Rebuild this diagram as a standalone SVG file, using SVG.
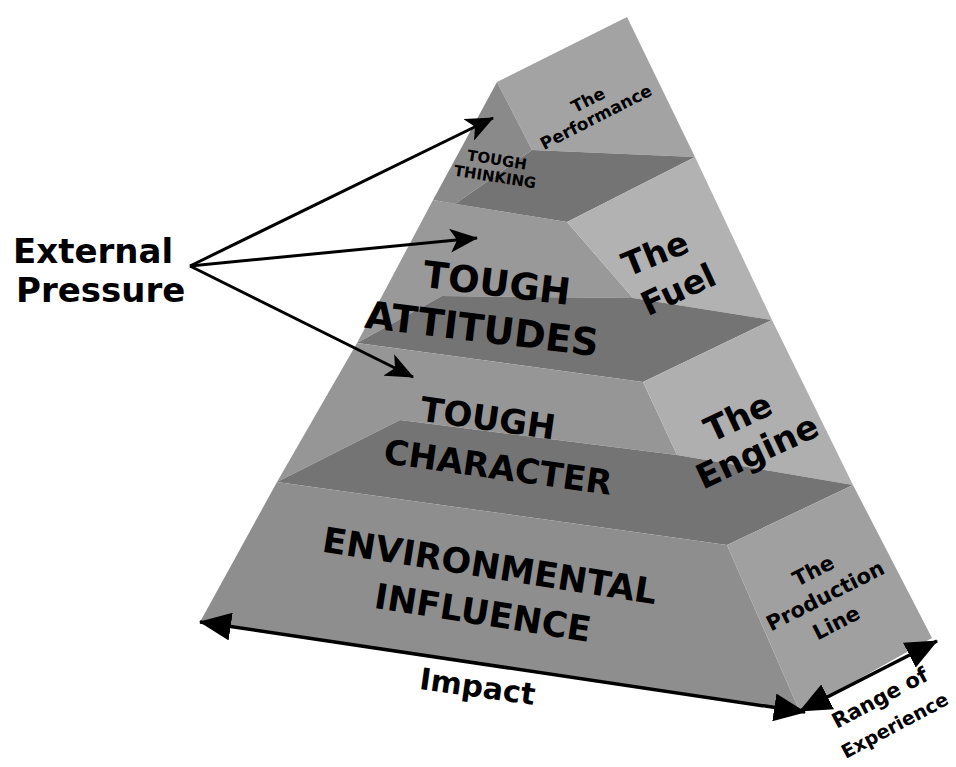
<svg xmlns="http://www.w3.org/2000/svg" width="956" height="767" viewBox="0 0 956 767">
<style>
.t{font-family:"DejaVu Sans","Verdana",sans-serif;font-weight:bold;fill:#000;text-anchor:middle}
.ledge{fill:#747474}
.ln{stroke:#000;fill:none}
</style>
<defs>
<marker id="ah" markerUnits="userSpaceOnUse" viewBox="0 0 28 24" refX="27" refY="12" markerWidth="28" markerHeight="24" orient="auto">
<path d="M0,0 L28,12 L0,24 L7,12 Z" fill="#000"/>
</marker>
<marker id="big" markerUnits="userSpaceOnUse" viewBox="0 0 32 28" refX="31" refY="14" markerWidth="32" markerHeight="28" orient="auto-start-reverse">
<path d="M0,0 L32,14 L0,28 Z" fill="#000"/>
</marker>
</defs>
<rect width="956" height="767" fill="#fff"/>
<g id="tier-thinking">
<polygon points="497,82 627,17 695,157 532,150" fill="#a3a3a3"/>
<polygon points="497,82 532,150 455,204 433,200" fill="#8a8a8a"/>
<polygon class="ledge" points="455,204 532,150 695,157 567,222"/>
<text class="t" font-size="15" x="497" y="165" transform="rotate(9 497 160)">TOUGH</text>
<text class="t" font-size="15" x="495" y="182" transform="rotate(9 495 177)">THINKING</text>
<text class="t" font-size="17" x="588" y="106" transform="rotate(-27 588 100)">The</text>
<text class="t" font-size="17" x="596" y="123" transform="rotate(-27 596 117)">Performance</text>
</g>
<g id="tier-attitudes">
<polygon points="433,200 567,222 633,298 442,296 357,343" fill="#999999"/>
<polygon points="567,222 695,157 772,320 633,298" fill="#b2b2b2"/>
<polygon class="ledge" points="357,343 442,296 633,298 772,320 643,382"/>
<text class="t" font-size="37" x="497" y="296" transform="rotate(7 497 282)">TOUGH</text>
<text class="t" font-size="38" x="482" y="342" transform="rotate(7 482 328)">ATTITUDES</text>
<text class="t" font-size="33" x="655" y="265" transform="rotate(-22 655 253)">The</text>
<text class="t" font-size="33" x="678" y="301" transform="rotate(-25 678 289)">Fuel</text>
</g>
<g id="tier-character">
<polygon points="357,343 643,382 677,455 400,420 277,482" fill="#969696"/>
<polygon points="643,382 772,320 853,485 677,455" fill="#afafaf"/>
<polygon class="ledge" points="277,482 400,420 677,455 853,485 727,545"/>
<text class="t" font-size="34" x="488" y="430" transform="rotate(8 488 418)">TOUGH</text>
<text class="t" font-size="34" x="498" y="479" transform="rotate(8 498 467)">CHARACTER</text>
<text class="t" font-size="34" x="738" y="429" transform="rotate(-25 738 417)">The</text>
<text class="t" font-size="34" x="758" y="463" transform="rotate(-25 758 453)">Engine</text>
</g>
<g id="tier-environmental">
<polygon points="277,482 727,545 800,712 200,622" fill="#8e8e8e"/>
<polygon points="727,545 853,485 932,638 800,712" fill="#a0a0a0"/>
<text class="t" font-size="35" x="490" y="578" transform="rotate(9 490 565)">ENVIRONMENTAL</text>
<text class="t" font-size="35" x="483" y="625" transform="rotate(9 483 612)">INFLUENCE</text>
<text class="t" font-size="21" x="813" y="578" transform="rotate(-27 813 570)">The</text>
<text class="t" font-size="21" x="825" y="603" transform="rotate(-27 825 595)">Production</text>
<text class="t" font-size="21" x="836" y="630" transform="rotate(-27 836 622)">Line</text>
</g>
<g id="external-pressure">
<text class="t" font-size="34" x="13" y="263" style="text-anchor:start">External</text>
<text class="t" font-size="34" x="16" y="302" style="text-anchor:start">Pressure</text>
</g>
<g id="axis-labels">
<text class="t" font-size="30" x="477" y="697" transform="rotate(8 477 690)">Impact</text>
<text class="t" font-size="21" x="880" y="705" transform="rotate(-28 880 698)">Range of</text>
<text class="t" font-size="19" x="895" y="732" transform="rotate(-28 895 726)">Experience</text>
</g>
<g id="connectors">
<line class="ln" stroke-width="3" x1="190" y1="266" x2="493" y2="118" marker-end="url(#ah)"/>
<line class="ln" stroke-width="3" x1="190" y1="266" x2="477" y2="238" marker-end="url(#ah)"/>
<line class="ln" stroke-width="3" x1="190" y1="266" x2="413" y2="377" marker-end="url(#ah)"/>
<line class="ln" stroke-width="3.5" x1="200" y1="622" x2="805" y2="712" marker-start="url(#big)" marker-end="url(#big)"/>
<line class="ln" stroke-width="3.5" x1="800" y1="711" x2="937" y2="641" marker-start="url(#big)" marker-end="url(#big)"/>
</g>
</svg>
